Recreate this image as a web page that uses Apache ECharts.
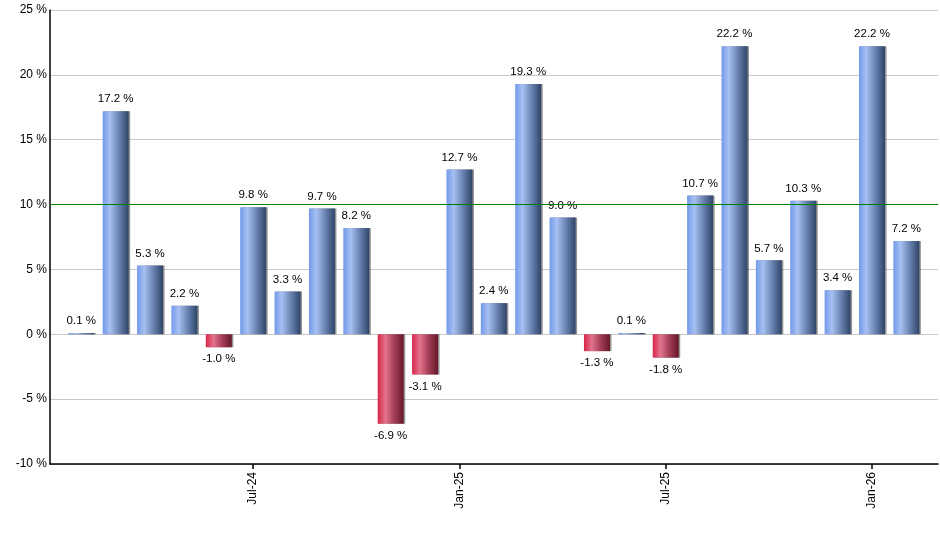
<!DOCTYPE html>
<html lang="en">
<head>
    <meta charset="UTF-8">
    <title>Monthly returns</title>
    <style>
        html, body { margin: 0; padding: 0; background: #fff; }
    </style>
</head>
<body>
    <div id="main" style="width: 940px;height:550px;"></div>
    <script src="https://cdn.jsdelivr.net/npm/echarts@6/dist/echarts.min.js"></script>
    <script>
    // months shown on the chart (Feb-24 .. Feb-26)
    var months = ['Feb-24', 'Mar-24', 'Apr-24', 'May-24', 'Jun-24', 'Jul-24', 'Aug-24', 'Sep-24', 'Oct-24',
        'Nov-24', 'Dec-24', 'Jan-25', 'Feb-25', 'Mar-25', 'Apr-25', 'May-25', 'Jun-25', 'Jul-25',
        'Aug-25', 'Sep-25', 'Oct-25', 'Nov-25', 'Dec-25', 'Jan-26', 'Feb-26'];
    // monthly change in %
    var returns = [0.1, 17.2, 5.3, 2.2, -1.0, 9.8, 3.3, 9.7, 8.2, -6.9, -3.1, 12.7, 2.4, 19.3, 9.0,
        -1.3, 0.1, -1.8, 10.7, 22.2, 5.7, 10.3, 3.4, 22.2, 7.2];
    // months that get a label on the x axis
    var labelledMonths = ['Jul-24', 'Jan-25', 'Jul-25', 'Jan-26'];
    var yTicks = [-10, -5, 0, 5, 10, 15, 20, 25];
    var refLine = 10;

    var blueFill = new echarts.graphic.LinearGradient(0, 0, 1, 0, [
        { offset: 0, color: '#7299ea' },
        { offset: 0.28, color: '#a6c0f2' },
        { offset: 0.62, color: '#6a84b2' },
        { offset: 1, color: '#2f4468' }
    ]);
    var redFill = new echarts.graphic.LinearGradient(0, 0, 1, 0, [
        { offset: 0, color: '#d8254a' },
        { offset: 0.3, color: '#e2748c' },
        { offset: 0.62, color: '#a8405a' },
        { offset: 1, color: '#661828' }
    ]);

    var barData = returns.map(function (v, i) {
        var neg = v < 0;
        return {
            value: [i, v],
            itemStyle: { color: neg ? redFill : blueFill },
            label: { position: neg ? 'bottom' : 'top' }
        };
    });

    var labelIdx = labelledMonths.map(function (m) { return months.indexOf(m); });

    var myChart = echarts.init(document.getElementById('main'));
    var option = {
        animation: false,
        grid: {
            left: 50,
            right: 2,
            top: 10,
            bottom: 86,
            containLabel: false
        },
        xAxis: {
            type: 'value',
            min: -0.91,
            max: 24.92,
            axisLine: { show: true, onZero: false, lineStyle: { color: '#000', width: 1.5 } },
            splitLine: { show: false },
            axisTick: {
                show: true,
                length: 5,
                customValues: labelIdx,
                lineStyle: { color: '#000', width: 1.5 }
            },
            axisLabel: {
                customValues: labelIdx,
                rotate: 90,
                margin: 8,
                color: '#000',
                fontFamily: 'Liberation Sans, Arial, sans-serif',
                fontSize: 12,
                formatter: function (v) { return months[Math.round(v)]; }
            }
        },
        yAxis: {
            type: 'value',
            min: yTicks[0],
            max: yTicks[yTicks.length - 1],
            interval: 5,
            axisLine: { show: true, onZero: false, lineStyle: { color: '#000', width: 1.5 } },
            axisTick: { show: false },
            splitLine: { show: true, lineStyle: { color: '#c8c8c8', width: 1 } },
            axisLabel: {
                color: '#000',
                margin: 3,
                fontFamily: 'Liberation Sans, Arial, sans-serif',
                fontSize: 12,
                formatter: function (v) { return v + ' %'; }
            }
        },
        series: [
            {
                type: 'bar',
                barWidth: 26,
                data: barData,
                itemStyle: {
                    shadowColor: 'rgba(60,60,60,0.55)',
                    shadowOffsetX: 1.5,
                    shadowOffsetY: 0,
                    shadowBlur: 0
                },
                label: {
                    show: true,
                    distance: 6,
                    color: '#000',
                    fontFamily: 'Liberation Sans, Arial, sans-serif',
                    fontSize: 11.5,
                    formatter: function (p) { return p.value[1].toFixed(1) + ' %'; }
                },
                markLine: {
                    silent: true,
                    symbol: ['none', 'none'],
                    label: { show: false },
                    lineStyle: { color: '#008000', type: 'solid', width: 1 },
                    data: [{ yAxis: refLine }]
                }
            }
        ]
    };
    myChart.setOption(option);
    </script>
</body>
</html>
